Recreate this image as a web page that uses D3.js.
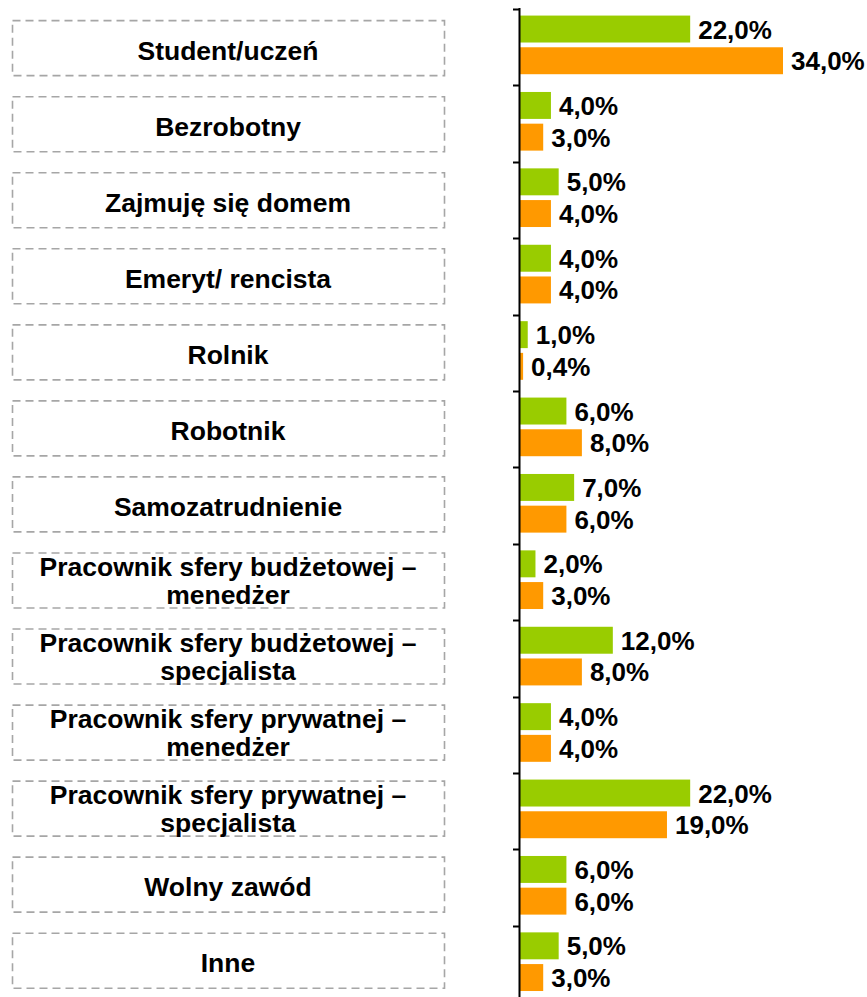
<!DOCTYPE html>
<html>
<head>
<meta charset="utf-8">
<script src="https://cdn.jsdelivr.net/npm/d3@7"></script>
<style>
  html, body { margin: 0; padding: 0; background: #fff; }
  svg { display: block; }
  text { font-family: "Liberation Sans", Arial, sans-serif; font-weight: bold; fill: #000; }
</style>
</head>
<body>
<svg id="chart" width="867" height="997"></svg>
<script>
// Occupation categories (top to bottom)
const categories = [
  "Student/uczeń",
  "Bezrobotny",
  "Zajmuję się domem",
  "Emeryt/ rencista",
  "Rolnik",
  "Robotnik",
  "Samozatrudnienie",
  "Pracownik sfery budżetowej – menedżer",
  "Pracownik sfery budżetowej – specjalista",
  "Pracownik sfery prywatnej – menedżer",
  "Pracownik sfery prywatnej – specjalista",
  "Wolny zawód",
  "Inne"
];
// Two series, percentages
const seriesNames = ["green", "orange"];
const greenValues  = [22, 4, 5, 4, 1, 6, 7, 2, 12, 4, 22, 6, 5];
const orangeValues = [34, 3, 4, 4, 0.4, 8, 6, 3, 8, 4, 19, 6, 3];
const seriesColors = ["#99CC00", "#FF9900"];

const svg = d3.select("#chart");

const x = d3.scaleLinear().domain([0, 34]).range([520, 783]);
// bar rows
const y = d3.scaleBand().domain(categories).range([9, 9 + 13 * 76.4]);
// label boxes column
const yBox = d3.scaleBand().domain(categories).range([9.6, 9.6 + 13 * 76.05]);
const ySub = d3.scaleBand().domain(seriesNames).range([0, y.bandwidth()])
  .paddingInner(0.15).paddingOuter(0.28).align(0.37);

const fmt = v => d3.format(".1f")(v).replace(".", ",") + "%";

// Category boxes with labels
const boxLeft = 12, boxRight = 444, boxH = 55;
const cat = svg.append("g").selectAll("g").data(categories).join("g")
  .attr("transform", d => `translate(0,${yBox(d) + yBox.bandwidth() / 2})`);

cat.append("rect")
  .attr("x", boxLeft + 0.5).attr("y", -boxH / 2 + 0.5)
  .attr("width", boxRight - boxLeft).attr("height", boxH)
  .attr("fill", "none").attr("stroke", "#A6A6A6")
  .attr("stroke-width", 1.6).attr("stroke-dasharray", "8,5");

cat.each(function(d) {
  const g = d3.select(this);
  const k = d.indexOf("–");
  const parts = k >= 0 ? [d.slice(0, k + 1), d.slice(k + 1).trim()] : [d];
  const t = g.append("text").attr("text-anchor", "middle").style("font-size", "26.5px");
  const cx = (boxLeft + boxRight) / 2;
  if (parts.length === 1) {
    t.append("tspan").attr("x", cx).attr("y", 12).text(parts[0]);
  } else {
    t.append("tspan").attr("x", cx).attr("y", -4).text(parts[0]);
    t.append("tspan").attr("x", cx).attr("y", 24).text(parts[1]);
  }
});

// Bars
const rows = categories.map((c, i) => ({ cat: c, vals: [greenValues[i], orangeValues[i]] }));
const rowG = svg.append("g").selectAll("g").data(rows).join("g")
  .attr("transform", d => `translate(0,${y(d.cat)})`);

rowG.selectAll("rect").data(d => d.vals.map((v, j) => ({ v, s: seriesNames[j], c: seriesColors[j] })))
  .join("rect")
  .attr("x", x(0))
  .attr("y", d => ySub(d.s))
  .attr("width", d => x(d.v) - x(0))
  .attr("height", ySub.bandwidth())
  .attr("fill", d => d.c);

rowG.selectAll("text").data(d => d.vals.map((v, j) => ({ v, s: seriesNames[j] })))
  .join("text")
  .attr("x", d => x(d.v) + 8)
  .attr("y", d => ySub(d.s) + ySub.bandwidth() / 2 + 9.5)
  .style("font-size", "26px")
  .text(d => fmt(d.v));

// Vertical axis with ticks at category boundaries
const axis = svg.append("g");
axis.append("line")
  .attr("x1", 519.5).attr("x2", 519.5)
  .attr("y1", 8).attr("y2", 997)
  .attr("stroke", "#000").attr("stroke-width", 2);
axis.selectAll("line.tick").data(categories).join("line")
  .attr("class", "tick")
  .attr("x1", 513).attr("x2", 519)
  .attr("y1", d => Math.round(y(d)) + 0.5).attr("y2", d => Math.round(y(d)) + 0.5)
  .attr("stroke", "#000").attr("stroke-width", 2);
</script>
</body>
</html>
